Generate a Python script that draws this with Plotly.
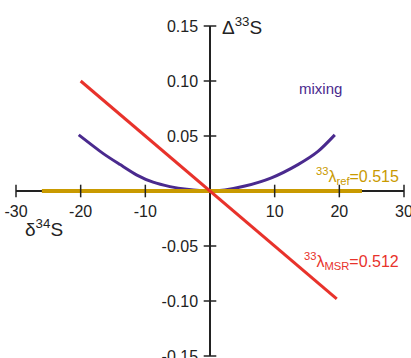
import plotly.graph_objects as go

# Data
mix_x = [-20.3, -16.5, -13.9, -11.3, -8.8, -6.2, -3.6, 0, 2.3, 5.4, 9.5, 13.6, 16.7, 19.3]
mix_y = [0.051, 0.034, 0.024, 0.0145, 0.008, 0.004, 0.0015, 0.0, 0.001, 0.0045, 0.012, 0.024, 0.036, 0.051]
msr_x = [-20.0, 19.6]
msr_y = [0.100, -0.098]
ref_x = [-26.0, 23.5]
ref_y = [0.0, 0.0]
x_ticks = [-30, -20, -10, 10, 20, 30]
x_ticklabels = ["-30", "-20", "-10", "10", "20", "30"]
y_ticks = [-0.15, -0.10, -0.05, 0.05, 0.10, 0.15]
y_ticklabels = ["-0.15", "-0.10", "-0.05", "0.05", "0.10", "0.15"]

AX = "#222222"
RED = "#E8322B"
PURPLE = "#4A2A8E"
GOLD = "#C99A00"
FONT = "Liberation Sans, Arial, sans-serif"

fig = go.Figure()
fig.add_trace(go.Scatter(x=mix_x, y=mix_y, mode="lines", line=dict(color=PURPLE, width=3, shape="spline", smoothing=0.8), hoverinfo="skip"))
fig.add_trace(go.Scatter(x=ref_x, y=ref_y, mode="lines", line=dict(color=GOLD, width=4), hoverinfo="skip"))
fig.add_trace(go.Scatter(x=msr_x, y=msr_y, mode="lines", line=dict(color=RED, width=3), hoverinfo="skip"))
# crossing tick marks
fig.add_trace(go.Scatter(x=x_ticks, y=[0] * len(x_ticks), mode="markers", cliponaxis=False,
                         marker=dict(symbol="line-ns", size=9, line=dict(color=AX, width=1.5)), hoverinfo="skip"))
fig.add_trace(go.Scatter(x=[0] * len(y_ticks), y=y_ticks, mode="markers", cliponaxis=False,
                         marker=dict(symbol="line-ew", size=9, line=dict(color=AX, width=1.5)), hoverinfo="skip"))

fig.update_layout(
    width=411, height=358, showlegend=False,
    margin=dict(l=16, r=7, t=26, b=2),
    paper_bgcolor="white", plot_bgcolor="white",
    font=dict(family=FONT, size=16, color=AX),
    xaxis=dict(range=[-30, 30], anchor="free", position=0.5, showline=True, linecolor=AX, linewidth=1.5,
               showgrid=False, zeroline=False, ticks="", tickvals=x_ticks, ticktext=x_ticklabels,
               ticklabelstandoff=6, automargin=False, fixedrange=True, layer="below traces",
               ticklabeloverflow="allow"),
    yaxis=dict(range=[-0.15, 0.15], anchor="free", position=0.5, showline=True, linecolor=AX, linewidth=1.5,
               showgrid=False, zeroline=False, ticks="", tickvals=y_ticks, ticktext=y_ticklabels,
               ticklabelstandoff=8, automargin=False, fixedrange=True, layer="below traces",
               ticklabeloverflow="allow"),
    annotations=[
        dict(x=0, y=0.15, xref="x", yref="y", text="Δ<sup>33</sup>S", showarrow=False, xanchor="left",
             xshift=10, font=dict(size=19, color=AX)),
        dict(x=-30, y=0, xref="x", yref="y", text="δ<sup>34</sup>S", showarrow=False, xanchor="left",
             xshift=7, yshift=-37, font=dict(size=19, color=AX)),
        dict(x=13.5, y=0.093, xref="x", yref="y", text="mixing", showarrow=False, xanchor="left",
             font=dict(size=15, color=PURPLE)),
        dict(x=29.5, y=0.0, xref="x", yref="y", text="<sup>33</sup>λ<sub>ref</sub>=0.515", showarrow=False,
             xanchor="right", yshift=15, font=dict(size=16, color=GOLD)),
        dict(x=29.5, y=-0.064, xref="x", yref="y", text="<sup>33</sup>λ<sub>MSR</sub>=0.512", showarrow=False,
             xanchor="right", font=dict(size=16, color=RED)),
    ],
)

fig.write_html("out.html", config={"displayModeBar": False},
               post_script="document.body.style.margin='0px';")
